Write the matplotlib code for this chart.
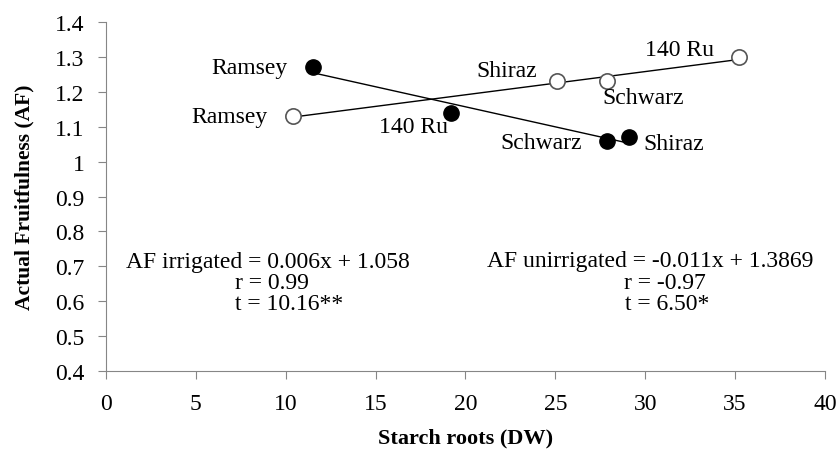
import numpy as np
import matplotlib.pyplot as plt

# Starch in roots (DW) against actual fruitfulness (AF) per cultivar
cultivars_irr = ['Ramsey', 'Shiraz', 'Schwarz', '140 Ru']
starch_irr = [10.4, 25.1, 27.9, 35.2]
af_irr = [1.13, 1.23, 1.23, 1.30]

cultivars_unirr = ['Ramsey', '140 Ru', 'Schwarz', 'Shiraz']
starch_unirr = [11.5, 19.2, 27.9, 29.1]
af_unirr = [1.27, 1.14, 1.06, 1.07]

plt.rcParams['font.family'] = ['Liberation Serif', 'DejaVu Serif']

fig = plt.figure(figsize=(8.39, 4.52), dpi=100)
ax = fig.add_axes([0.1263, 0.177, 0.857, 0.772])

# linear trend lines over the range of each series
for xs, ys in [(starch_irr, af_irr), (starch_unirr, af_unirr)]:
    k, b = np.polyfit(xs, ys, 1)
    xl = np.array([min(xs), max(xs)])
    ax.plot(xl, k * xl + b, color='black', lw=1.0, zorder=2)

ax.plot(starch_irr, af_irr, 'o', ms=11, mfc='white', mec='#555555', mew=1.2, zorder=3)
ax.plot(starch_unirr, af_unirr, 'o', ms=11, mfc='black', mec='black', zorder=3)

# cultivar labels
fs = 17
ax.text(9.0, af_irr[0], cultivars_irr[0], ha='right', va='center', fontsize=fs)
ax.text(24.0, 1.262, cultivars_irr[1], ha='right', va='center', fontsize=fs)
ax.text(27.6, 1.183, cultivars_irr[2], ha='left', va='center', fontsize=fs)
ax.text(33.8, 1.322, cultivars_irr[3], ha='right', va='center', fontsize=fs)

ax.text(10.1, af_unirr[0], cultivars_unirr[0], ha='right', va='center', fontsize=fs)
ax.text(15.2, 1.102, cultivars_unirr[1], ha='left', va='center', fontsize=fs)
ax.text(26.5, 1.056, cultivars_unirr[2], ha='right', va='center', fontsize=fs)
ax.text(29.9, 1.053, cultivars_unirr[3], ha='left', va='center', fontsize=fs)

# regression statistics
ax.text(1.1, 0.714, 'AF irrigated = 0.006x + 1.058', ha='left', va='center', fontsize=fs)
ax.text(7.2, 0.653, 'r = 0.99', ha='left', va='center', fontsize=fs)
ax.text(7.2, 0.594, 't = 10.16**', ha='left', va='center', fontsize=fs)

ax.text(21.2, 0.716, 'AF unirrigated = -0.011x + 1.3869', ha='left', va='center', fontsize=fs)
ax.text(28.8, 0.655, 'r = -0.97', ha='left', va='center', fontsize=fs)
ax.text(28.9, 0.594, 't = 6.50*', ha='left', va='center', fontsize=fs)

ax.set_xlim(0, 40)
ax.set_ylim(0.4, 1.4)
ax.set_xticks(range(0, 41, 5))
ax.set_yticks(np.arange(0.4, 1.41, 0.1))
ax.set_yticklabels(['0.4', '0.5', '0.6', '0.7', '0.8', '0.9', '1', '1.1', '1.2', '1.3', '1.4'])

for side in ['top', 'right']:
    ax.spines[side].set_visible(False)
for side in ['left', 'bottom']:
    ax.spines[side].set_color('#868686')
ax.tick_params(direction='out', length=5.5, color='#868686', labelsize=fs)
ax.tick_params(axis='y', pad=10)
ax.tick_params(axis='x', pad=10)

ax.set_xlabel('Starch roots (DW)', fontsize=16, fontweight='bold')
ax.set_ylabel('Actual Fruitfulness (AF)', fontsize=15.5, fontweight='bold')
ax.xaxis.set_label_coords(0.5, -0.162)
ax.yaxis.set_label_coords(-0.099, 0.5)

fig.savefig('out.png', dpi=100)
